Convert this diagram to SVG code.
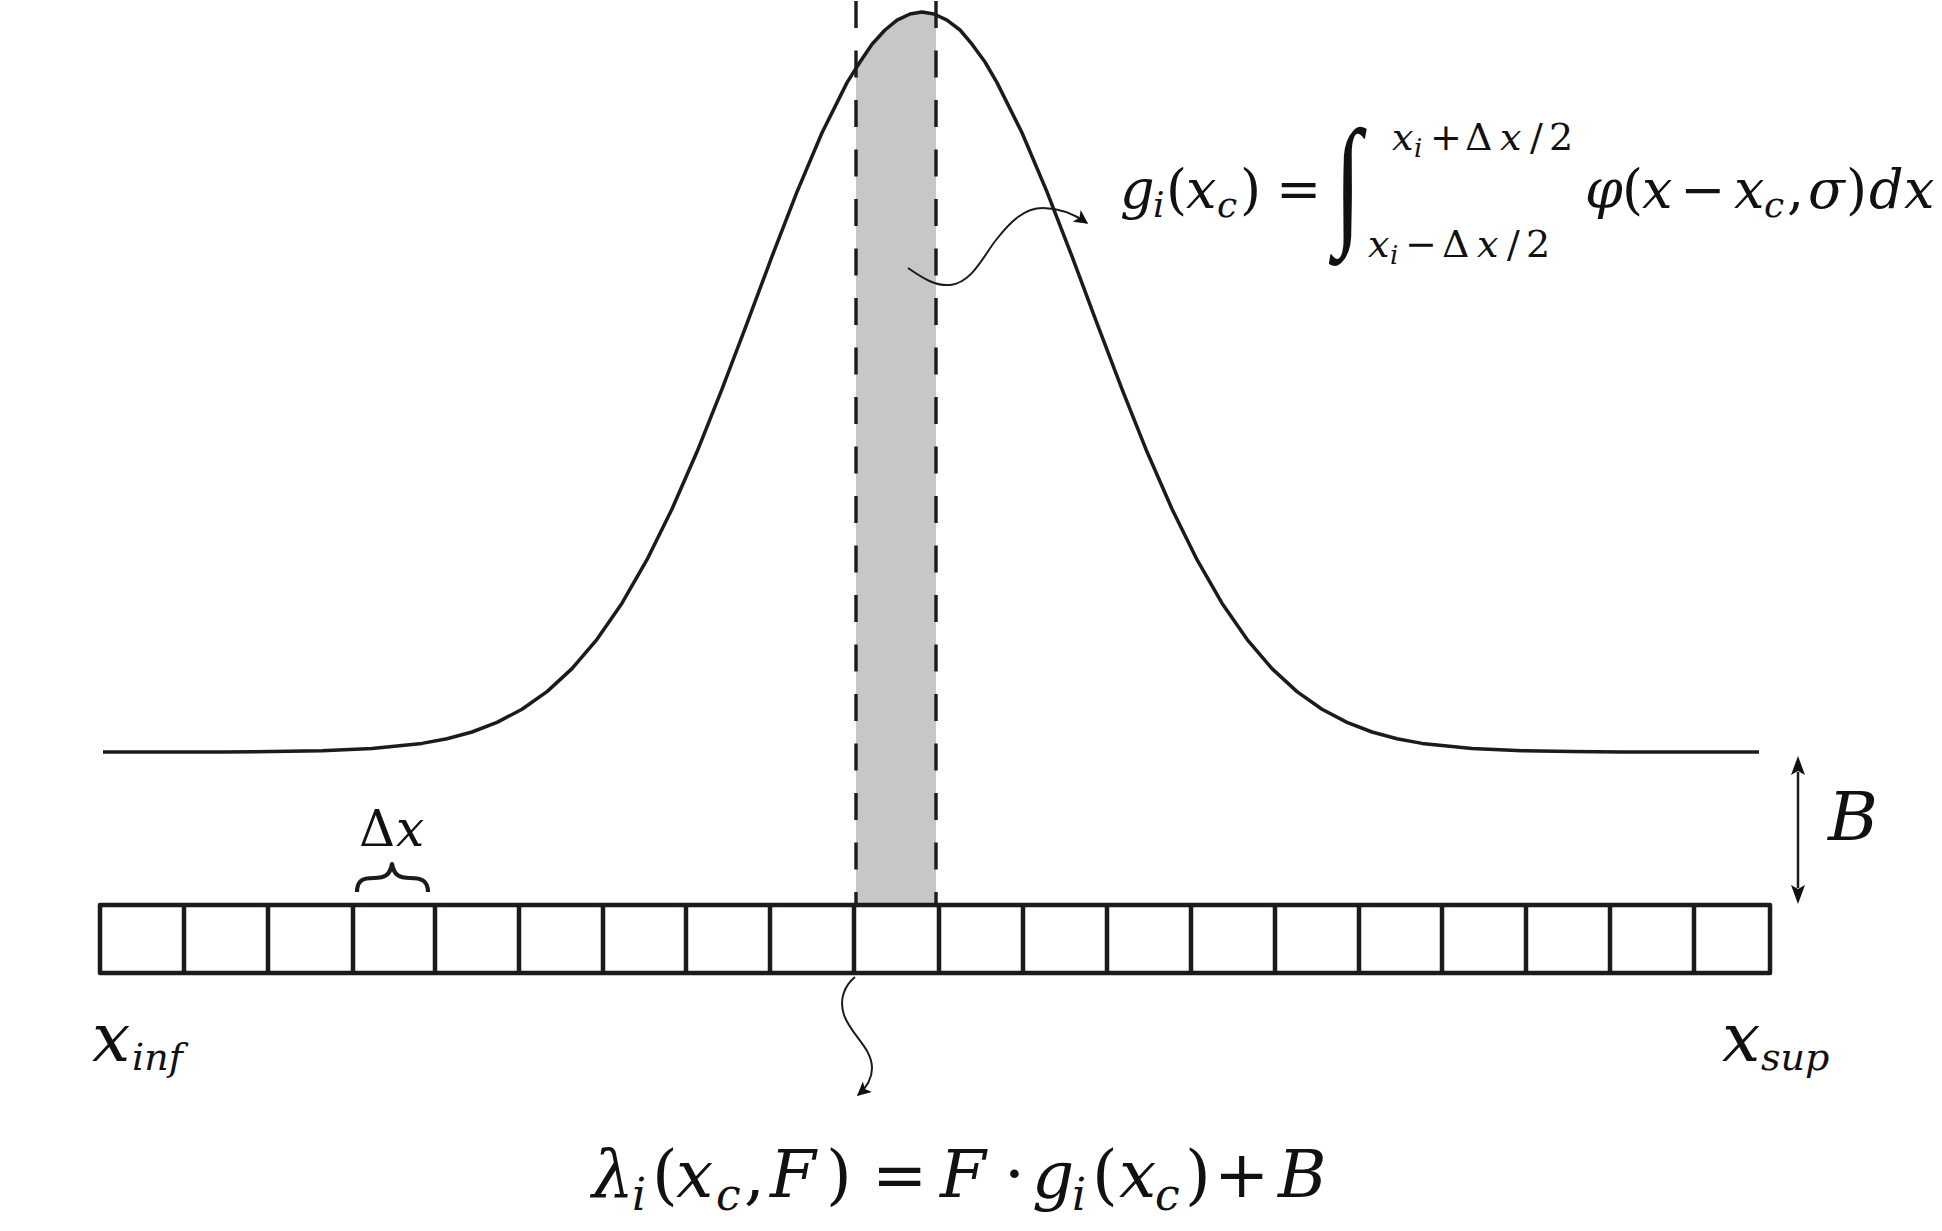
<svg xmlns="http://www.w3.org/2000/svg" width="1942" height="1231" viewBox="0 0 1942 1231">
<style>
.mi{font-family:'DejaVu Serif','DejaVu Sans',serif;font-style:italic;fill:#111}
.mu{font-family:'DejaVu Serif','DejaVu Sans',serif;font-style:normal;fill:#111}
.ig{font-family:'Liberation Serif',serif;font-style:italic;fill:#111}
.ln{fill:none;stroke:#1c1a1b;stroke-linecap:butt;stroke-linejoin:round}
</style>
<defs>
<marker id="ah2" viewBox="0 0 10 10" refX="9" refY="5" markerWidth="14" markerHeight="14" markerUnits="userSpaceOnUse" orient="auto-start-reverse">
<path d="M0,0 L10,5 L0,10 L2.5,5 Z" fill="#111"/>
</marker>
</defs>
<rect width="1942" height="1231" fill="#fff"/>

<g id="bin-highlight">
<path d="M856,67 L872,44.2 L897,20.2 L922,12 L936,14.6 L936,903 L856,903 Z" fill="#c6c7c9"/>
</g>

<g id="gaussian">
<polyline class="ln" stroke-width="3.5" points="103,752 222,752 272,751.6 322,750.8 372,748.6 422,743.4 447,738.7 472,732 497,722.4 522,709.3 547,691.6 572,668.6 597,639.3 622,603.2 647,559.7 672,509 697,451.8 722,389.2 747,323.3 772,256.4 797,191.9 822,132.8 847,82.6 860,62 872,44.2 885,30 897,20.2 910,14 922,12 934,14 947,20.2 960,30 972,44.2 985,62 997,82.6 1022,132.8 1047,191.9 1072,256.4 1097,323.3 1122,389.2 1147,451.8 1172,509 1197,559.7 1222,603.2 1247,639.3 1272,668.6 1297,691.6 1322,709.3 1347,722.4 1372,732 1397,738.7 1422,743.4 1472,748.6 1522,750.8 1572,751.6 1622,752 1759,752"/>
</g>

<g id="bin-bounds">
<line class="ln" x1="856" y1="1" x2="856" y2="903" stroke-width="3.4" stroke-dasharray="27 22.5"/>
<line class="ln" x1="936" y1="1" x2="936" y2="903" stroke-width="3.4" stroke-dasharray="27 22.5"/>
</g>

<g id="pixel-row">
<rect class="ln" x="100" y="905" width="1670" height="68" stroke-width="4.5"/>
<path class="ln" stroke-width="4.5" d="M184,905V973M268,905V973M353,905V973M435,905V973M519,905V973M603,905V973M686,905V973M770,905V973M854,905V973M939,905V973M1023,905V973M1107,905V973M1191,905V973M1275,905V973M1359,905V973M1442,905V973M1526,905V973M1610,905V973M1694,905V973"/>
</g>

<g id="delta-x">
<path class="ln" stroke-width="4.2" d="M357,892 C357,881 362,878 374,878 C385,878 390,875 392,864 C394,875 399,878 410,878 C422,878 428,881 428,892"/>
<text class="mu" x="359" y="846" font-size="50">Δ</text>
<text class="mi" x="396" y="846" font-size="50">x</text>
</g>

<g id="connectors">
<path class="ln" stroke-width="2" marker-end="url(#ah2)" d="M908,268 C924,279 935,286 950,285 C972,283 984,255 996,240 C1010,222 1024,208 1043,208 C1060,208 1074,214 1087,223"/>
<path class="ln" stroke-width="2" marker-end="url(#ah2)" d="M855,977 C844,986 839,1000 844,1015 C851,1035 872,1048 872,1068 C872,1080 866,1088 858,1095"/>
<line class="ln" x1="1798" y1="772" x2="1798" y2="888" stroke-width="2.5"/>
<path d="M1798,756 L1791,775 L1798,771 L1805,775 Z" fill="#111"/>
<path d="M1798,904 L1791,885 L1798,889 L1805,885 Z" fill="#111"/>
</g>

<g id="label-B">
<text class="mi" x="1828" y="840" font-size="68">B</text>
</g>

<g id="label-xinf">
<text class="mi" x="92" y="1061" font-size="68">x</text>
<text class="mi" x="132" y="1070" font-size="38">inf</text>
</g>

<g id="label-xsup">
<text class="mi" x="1722" y="1061" font-size="68">x</text>
<text class="mi" x="1761" y="1070" font-size="38">sup</text>
</g>

<g id="formula-g">
<text class="mi" x="1120" y="208" font-size="54">g</text>
<text class="mi" x="1153" y="217" font-size="36">i</text>
<text class="mu" x="1166" y="208" font-size="54">(</text>
<text class="mi" x="1186" y="208" font-size="54">x</text>
<text class="mi" x="1217" y="217" font-size="36">c</text>
<text class="mu" x="1240" y="208" font-size="54">)</text>
<text class="mu" x="1276" y="208" font-size="54">=</text>
<text class="ig" x="0" y="0" font-size="100" transform="translate(1334,228) scale(1,1.42)">∫</text>
<text class="mi" x="1392" y="150" font-size="38">x</text>
<text class="mi" x="1414" y="157" font-size="26">i</text>
<text class="mu" x="1430" y="150" font-size="38">+</text>
<text class="mu" x="1465" y="150" font-size="38">Δ</text>
<text class="mi" x="1500" y="150" font-size="38">x</text>
<text class="mu" x="1530" y="150" font-size="38">/</text>
<text class="mu" x="1549" y="150" font-size="38">2</text>
<text class="mi" x="1368" y="257" font-size="38">x</text>
<text class="mi" x="1390" y="264" font-size="26">i</text>
<text class="mu" x="1405" y="257" font-size="38">−</text>
<text class="mu" x="1442" y="257" font-size="38">Δ</text>
<text class="mi" x="1477" y="257" font-size="38">x</text>
<text class="mu" x="1507" y="257" font-size="38">/</text>
<text class="mu" x="1526" y="257" font-size="38">2</text>
<text class="mi" x="1585" y="208" font-size="54">φ</text>
<text class="mu" x="1622" y="208" font-size="54">(</text>
<text class="mi" x="1642" y="208" font-size="54">x</text>
<text class="mu" x="1680" y="208" font-size="54">−</text>
<text class="mi" x="1734" y="208" font-size="54">x</text>
<text class="mi" x="1764" y="217" font-size="36">c</text>
<text class="mu" x="1787" y="208" font-size="54">,</text>
<text class="mi" x="1808" y="208" font-size="54">σ</text>
<text class="mu" x="1846" y="208" font-size="54">)</text>
<text class="mi" x="1869" y="208" font-size="54">d</text>
<text class="mi" x="1904" y="208" font-size="54">x</text>
</g>

<g id="formula-lambda">
<text class="mi" x="592" y="1197" font-size="66">λ</text>
<text class="mi" x="632" y="1210" font-size="44">i</text>
<text class="mu" x="652" y="1197" font-size="66">(</text>
<text class="mi" x="676" y="1197" font-size="66">x</text>
<text class="mi" x="716" y="1210" font-size="44">c</text>
<text class="mu" x="744" y="1197" font-size="66">,</text>
<text class="mi" x="770" y="1197" font-size="66">F</text>
<text class="mu" x="826" y="1197" font-size="66">)</text>
<text class="mu" x="872" y="1197" font-size="66">=</text>
<text class="mi" x="940" y="1197" font-size="66">F</text>
<text class="mu" x="1004" y="1197" font-size="66">·</text>
<text class="mi" x="1032" y="1197" font-size="66">g</text>
<text class="mi" x="1072" y="1210" font-size="44">i</text>
<text class="mu" x="1092" y="1197" font-size="66">(</text>
<text class="mi" x="1119" y="1197" font-size="66">x</text>
<text class="mi" x="1155" y="1210" font-size="44">c</text>
<text class="mu" x="1185" y="1197" font-size="66">)</text>
<text class="mu" x="1214" y="1197" font-size="66">+</text>
<text class="mi" x="1278" y="1197" font-size="66">B</text>
</g>
</svg>
